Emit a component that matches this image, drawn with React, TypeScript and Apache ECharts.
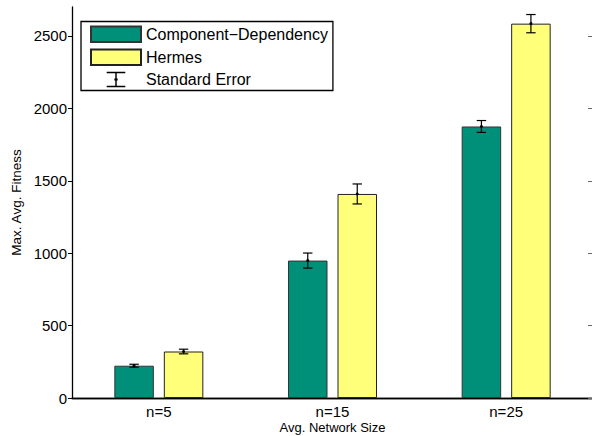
import React, { useEffect, useRef } from "react";
import * as echarts from "echarts";

const categories = ["n=5", "n=15", "n=25"];
const componentDependency = [223, 949, 1875];
const componentDependencyErr = [10, 52, 41];
const hermes = [321, 1409, 2585];
const hermesErr = [16, 69, 63];
const yTicks = [0, 500, 1000, 1500, 2000, 2500];

const GREEN = "#00907a";
const YELLOW = "#ffff7a";
const FONT = "Liberation Sans, Arial, Helvetica, sans-serif";

const errorIcon =
  "path://M16,0 L34,0 L34,1.4 L25.7,1.4 L25.7,6.6 L26.6,6.6 L26.6,8.4 L25.7,8.4 L25.7,13.6 L34,13.6 L34,15 L16,15 L16,13.6 L24.3,13.6 L24.3,8.4 L23.4,8.4 L23.4,6.6 L24.3,6.6 L24.3,1.4 L16,1.4 Z";

export default function App() {
  const ref = useRef<HTMLDivElement>(null);
  useEffect(() => {
    if (!ref.current) return;
    const chart = echarts.init(ref.current, null, { renderer: "svg" });
    const errData: number[][] = [];
    categories.forEach((_, i) => {
      errData.push([i, 0, componentDependency[i], componentDependencyErr[i]]);
      errData.push([i, 1, hermes[i], hermesErr[i]]);
    });
    const barWidth = 39.5;
    const gap = 10;
    const offset = (barWidth + gap) / 2;
    chart.setOption({
      animation: false,
      textStyle: { fontFamily: FONT },
      grid: {
        left: 72,
        top: 7,
        width: 521,
        height: 391,
        containLabel: false,
        outerBoundsMode: "none",
      },
      legend: {
        orient: "vertical",
        left: 81,
        top: 21.5,
        padding: [4, 5, 3, 9],
        itemGap: 5.5,
        itemWidth: 50,
        itemHeight: 15.5,
        borderColor: "#000",
        borderWidth: 1.3,
        backgroundColor: "#fff",
        textStyle: { fontSize: 16, lineHeight: 16, color: "#000", fontFamily: FONT },
        data: [
          { name: "Component−Dependency", icon: "rect" },
          { name: "Hermes", icon: "rect" },
          { name: "Standard Error", icon: errorIcon, itemStyle: { color: "#000", borderWidth: 0 } },
        ],
      },
      xAxis: [
        {
          type: "category",
          data: categories,
          position: "bottom",
          axisLine: { lineStyle: { color: "#000", width: 1.3 } },
          axisTick: { inside: true, alignWithLabel: true, length: 5, lineStyle: { color: "#666" } },
          axisLabel: { fontSize: 15, color: "#000", margin: 6, fontFamily: FONT },
          name: "Avg. Network Size",
          nameLocation: "middle",
          nameMoveOverlap: false,
          nameGap: 23,
          nameTextStyle: {
            fontSize: 13,
            lineHeight: 13,
            color: "#000",
            verticalAlign: "top",
            fontFamily: FONT,
          },
        },
        {
          type: "category",
          data: categories,
          position: "top",
          axisLine: { show: true, lineStyle: { color: "#000", width: 1.3 } },
          axisTick: { inside: true, alignWithLabel: true, length: 5, lineStyle: { color: "#666" } },
          axisLabel: { show: false },
        },
      ],
      yAxis: [
        {
          type: "value",
          min: 0,
          max: 2700,
          interval: 500,
          position: "left",
          splitLine: { show: false },
          axisLine: { show: true, lineStyle: { color: "#000", width: 1.3 } },
          axisTick: { show: true, length: 4, customValues: yTicks, lineStyle: { color: "#000" } },
          axisLabel: {
            fontSize: 15,
            color: "#000",
            margin: 5,
            customValues: yTicks,
            fontFamily: FONT,
            formatter: (v: number) => String(v),
          },
          name: "Max. Avg. Fitness",
          nameLocation: "middle",
          nameMoveOverlap: false,
          nameGap: 49,
          nameTextStyle: { fontSize: 13.5, color: "#000", fontFamily: FONT },
        },
        {
          type: "value",
          min: 0,
          max: 2700,
          interval: 500,
          position: "right",
          splitLine: { show: false },
          axisLine: { show: true, lineStyle: { color: "#000", width: 1.3 } },
          axisTick: { show: true, inside: true, length: 5, customValues: yTicks, lineStyle: { color: "#666" } },
          axisLabel: { show: false },
        },
      ],
      series: [
        {
          name: "Component−Dependency",
          type: "bar",
          data: componentDependency,
          barWidth,
          barGap: (gap / barWidth) * 100 + "%",
          itemStyle: { color: GREEN, borderColor: "#333", borderWidth: 1 },
        },
        {
          name: "Hermes",
          type: "bar",
          data: hermes,
          barWidth,
          itemStyle: { color: YELLOW, borderColor: "#222", borderWidth: 1 },
        },
        {
          name: "Standard Error",
          type: "custom",
          data: errData,
          encode: { x: 0, y: 2 },
          z: 10,
          itemStyle: { color: "#000" },
          renderItem: (params: any, api: any) => {
            const cat = api.value(0);
            const s = api.value(1);
            const v = api.value(2);
            const e = api.value(3);
            const dx = s === 0 ? -offset : offset;
            const top = api.coord([cat, v + e]);
            const bot = api.coord([cat, v - e]);
            const mid = api.coord([cat, v]);
            const x = top[0] + dx;
            const cap = 4.7;
            const st = { stroke: "#000", lineWidth: 1.2 };
            return {
              type: "group",
              children: [
                { type: "line", shape: { x1: x, y1: top[1], x2: x, y2: bot[1] }, style: st },
                { type: "line", shape: { x1: x - cap, y1: top[1], x2: x + cap, y2: top[1] }, style: st },
                { type: "line", shape: { x1: x - cap, y1: bot[1], x2: x + cap, y2: bot[1] }, style: st },
                { type: "circle", shape: { cx: x, cy: mid[1], r: 1.5 }, style: { fill: "#000" } },
              ],
            };
          },
        },
      ],
    });
    return () => chart.dispose();
  }, []);
  return (
    <div
      ref={ref}
      style={{ position: "fixed", left: 0, top: 0, width: 592, height: 436, background: "#fff" }}
    />
  );
}
